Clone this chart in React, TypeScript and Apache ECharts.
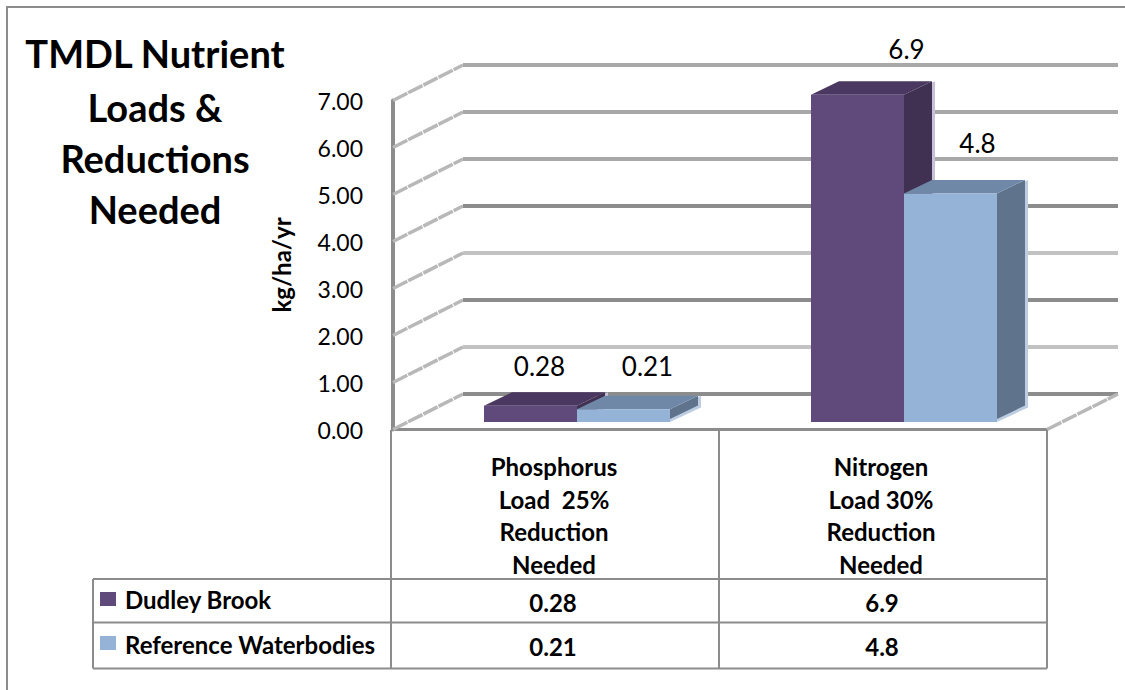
import React, { useEffect, useRef } from "react";
import * as echarts from "echarts";

const categories = ["Phosphorus\nLoad  25%\nReduction\nNeeded", "Nitrogen\nLoad 30%\nReduction\nNeeded"];
const seriesNames = ["Dudley Brook", "Reference Waterbodies"];
const dudleyBrook = [0.28, 6.9];
const referenceWaterbodies = [0.21, 4.8];
const dudleyText = ["0.28", "6.9"];
const referenceText = ["0.21", "4.8"];
const ticks = [0, 1, 2, 3, 4, 5, 6, 7];
const title = ["TMDL Nutrient", "Loads &", "Reductions", "Needed"];

const FONT = "Lato";
const GRID = { left: 393, right: 1047, top: 100.5, bottom: 429.5 };
const WALL_DX = 70;
const WALL_DY = -35.5;
const GRID_COLORS = ["#8c8c8c", "#c2c2c2", "#8c8c8c", "#c2c2c2", "#8c8c8c", "#a8a8a8", "#a8a8a8", "#a8a8a8"];
const BAR_W = 93;
const DEPTH_X = 28;
const DEPTH_Y = -13.5;
const BAR_LIFT_TOP = -10.5;
const BAR_LIFT_BOTTOM = -7.5;
const PALETTES = [
  { front: "#604a7b", top: "#4a3860", side: "#403152", edge: "#c8bfd8" },
  { front: "#95b3d7", top: "#7088a8", side: "#5f738c", edge: "#bccde2" },
];
const LABEL_OFFSETS = [
  [[9, -40], [49, -46]],
  [[24, -43], [27, -50]],
];

function makeBarRender(si: number, texts: string[]) {
  return (_p: any, api: any) => {
    const cat = api.value(0);
    const val = api.value(1);
    const cx = api.coord([cat, 0])[0] + 20.5;
    const y0 = api.coord([cat, 0])[1] + BAR_LIFT_BOTTOM;
    const yT = api.coord([cat, val])[1] + BAR_LIFT_TOP;
    const l = si === 0 ? cx - BAR_W : cx;
    const r = l + BAR_W;
    const c = PALETTES[si];
    const poly = (pts: number[][], fill: string) => ({
      type: "polygon",
      shape: { points: pts },
      style: { fill },
    });
    const [ox, oy] = LABEL_OFFSETS[si][cat];
    return {
      type: "group",
      children: [
        poly(
          [
            [r, y0],
            [r + DEPTH_X + 3, y0 + DEPTH_Y - 1],
            [r + DEPTH_X + 3, yT + DEPTH_Y],
            [r, yT],
          ],
          c.edge
        ),
        poly(
          [
            [r, y0 - 3],
            [r + DEPTH_X, y0 + DEPTH_Y - 3],
            [r + DEPTH_X, yT + DEPTH_Y],
            [r, yT],
          ],
          c.side
        ),
        poly(
          [
            [l, yT],
            [l + DEPTH_X, yT + DEPTH_Y],
            [r + DEPTH_X, yT + DEPTH_Y],
            [r, yT],
          ],
          c.top
        ),
        poly(
          [
            [l, yT],
            [r, yT],
            [r, y0],
            [l, y0],
          ],
          c.front
        ),
        {
          type: "text",
          style: {
            text: texts[cat],
            x: (l + r) / 2 + ox,
            y: yT + oy,
            align: "center",
            verticalAlign: "middle",
            font: `26px ${FONT}`,
            fill: "#000",
          },
        },
      ],
    };
  };
}

function wallRender(_p: any, api: any) {
  const v = api.value(0);
  const y = api.coord([0, v])[1];
  const left = GRID.left;
  const right = GRID.right;
  return {
    type: "group",
    children: [
      {
        type: "line",
        shape: { x1: left, y1: y, x2: left + WALL_DX, y2: y + WALL_DY },
        style: { stroke: "#b8b8b8", lineWidth: 3.5, lineDash: [16, 1] },
      },
      {
        type: "line",
        shape: { x1: left + WALL_DX, y1: y + WALL_DY, x2: right + WALL_DX + 1, y2: y + WALL_DY },
        style: { stroke: GRID_COLORS[v], lineWidth: 4 },
      },
    ],
  };
}

const LINE = "#8c8c8c";
function hline(x1: number, x2: number, y: number) {
  return { type: "line", z: 20, shape: { x1, y1: y, x2, y2: y }, style: { stroke: LINE, lineWidth: 2 } };
}
function vline(x: number, y1: number, y2: number) {
  return { type: "line", z: 20, shape: { x1: x, y1, x2: x, y2 }, style: { stroke: LINE, lineWidth: 2 } };
}
function label(text: string, x: number, y: number, font: string, align = "center") {
  return {
    type: "text",
    z: 20,
    x,
    y,
    style: { text, font, fill: "#000", align, verticalAlign: "middle" },
  };
}

export default function App() {
  const ref = useRef<HTMLDivElement>(null);
  useEffect(() => {
    document.body.style.margin = "0";
    const chart = echarts.init(ref.current!, undefined, { renderer: "svg" });
    const cols = [553, 882];
    const rowY = [602, 646];
    const values = [dudleyText, referenceText];
    const tableFont = `bold 24px ${FONT}`;
    chart.setOption({
      animation: false,
      backgroundColor: "#fff",
      grid: {
        left: GRID.left,
        top: GRID.top,
        width: GRID.right - GRID.left,
        height: GRID.bottom - GRID.top,
        containLabel: false,
      },
      xAxis: {
        type: "category",
        data: categories,
        axisTick: { show: false },
        axisLine: { show: true, lineStyle: { color: LINE, width: 3 } },
        axisLabel: {
          fontFamily: FONT,
          fontWeight: "bold",
          fontSize: 24,
          color: "#000",
          lineHeight: 32.5,
          margin: 21,
          interval: 0,
          padding: [0, 5, 0, 0],
        },
      },
      yAxis: {
        type: "value",
        min: 0,
        max: 7,
        interval: 1,
        splitLine: { show: false },
        axisTick: { show: false },
        axisLine: { show: true, lineStyle: { color: LINE, width: 4 } },
        axisLabel: {
          fontFamily: FONT,
          fontSize: 23,
          color: "#000",
          margin: 30,
          formatter: (v: number) => v.toFixed(2),
        },
        name: "kg/ha/yr",
        nameLocation: "middle",
        nameRotate: 90,
        nameGap: 100,
        nameTextStyle: { fontFamily: FONT, fontWeight: "bold", fontSize: 24, color: "#000" },
      },
      series: [
        {
          type: "custom",
          name: "grid",
          silent: true,
          renderItem: wallRender,
          data: ticks.map((t) => [t]),
          encode: { y: 0 },
          z: 1,
          clip: false,
        },
        {
          type: "custom",
          name: seriesNames[0],
          renderItem: makeBarRender(0, dudleyText),
          data: dudleyBrook.map((v, i) => [i, v]),
          encode: { x: 0, y: 1 },
          z: 3,
          clip: false,
        },
        {
          type: "custom",
          name: seriesNames[1],
          renderItem: makeBarRender(1, referenceText),
          data: referenceWaterbodies.map((v, i) => [i, v]),
          encode: { x: 0, y: 1 },
          z: 4,
          clip: false,
        },
      ],
      graphic: [
        {
          type: "rect",
          z: 0,
          shape: { x: 7, y: 7, width: 1140, height: 700 },
          style: { fill: "none", stroke: "#8c8c8c", lineWidth: 2 },
        },
        ...title.map((t, i) => label(t, 155, [53, 107, 158, 209][i], `bold 38px ${FONT}`)),
        vline(719, 430, 668.5),
        vline(1047, 430, 668.5),
        vline(391, 430, 668.5),
        vline(93, 579, 668.5),
        hline(93, 1047, 579),
        hline(93, 1047, 622.5),
        hline(93, 1047, 668.5),
        {
          type: "line",
          z: 2,
          shape: { x1: 1047, y1: 429.5, x2: 1118, y2: 394 },
          style: { stroke: "#b8b8b8", lineWidth: 3.5, lineDash: [16, 1] },
        },
        ...seriesNames.flatMap((name, i) => [
          {
            type: "rect",
            z: 20,
            shape: { x: 100, y: [592, 636][i], width: 16, height: 14 },
            style: { fill: PALETTES[i].front },
          },
          label(name, 125, [599, 644][i], tableFont, "left"),
          ...cols.map((c, j) => label(values[i][j], c, rowY[i], tableFont)),
        ]),
      ],
    });
    return () => chart.dispose();
  }, []);
  return <div ref={ref} style={{ width: 1125, height: 690 }} />;
}
